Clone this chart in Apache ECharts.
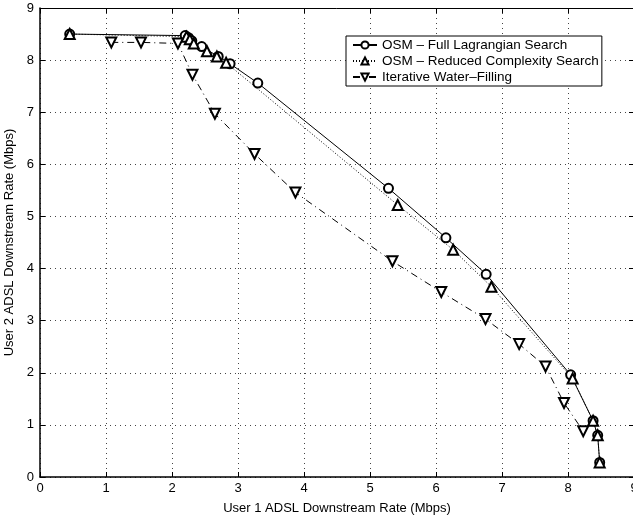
<!DOCTYPE html>
<html>
<head>
    <meta charset="UTF-8">
    <title>OSM vs IWF</title>
    <script src="https://cdn.jsdelivr.net/npm/echarts@6/dist/echarts.min.js"></script>
</head>
<body style="margin:0">
<div id="main" style="width:633px;height:516px"></div>
<script>
    // rate pairs (Mbps)
    var fullX = [0.45, 2.2, 2.25, 2.3, 2.45, 2.7, 2.88, 3.3, 5.28, 6.15, 6.76, 8.04, 8.38, 8.45, 8.48];
    var fullY = [8.5, 8.47, 8.43, 8.37, 8.26, 8.07, 7.93, 7.56, 5.54, 4.59, 3.89, 1.96, 1.08, 0.8, 0.28];
    var redX = [0.45, 2.22, 2.27, 2.33, 2.53, 2.68, 2.82, 5.42, 6.26, 6.84, 8.07, 8.38, 8.45, 8.48];
    var redY = [8.5, 8.45, 8.4, 8.32, 8.17, 8.07, 7.95, 5.22, 4.36, 3.65, 1.89, 1.08, 0.8, 0.28];
    var iwfX = [1.08, 1.53, 2.09, 2.31, 2.65, 3.25, 3.87, 5.34, 6.08, 6.75, 7.26, 7.66, 7.94, 8.23];
    var iwfY = [8.34, 8.34, 8.32, 7.72, 6.97, 6.2, 5.46, 4.14, 3.55, 3.03, 2.55, 2.12, 1.42, 0.88];
    var names = ['OSM \u2013 Full Lagrangian Search', 'OSM \u2013 Reduced Complexity Search', 'Iterative Water\u2013Filling'];

    function pairs(xs, ys) {
        return xs.map(function (x, i) { return [x, ys[i]]; });
    }

    var font = 'Liberation Sans, Arial, sans-serif';
    var myChart = echarts.init(document.getElementById('main'));

    var option = {
        animation: false,
        textStyle: { fontFamily: font },
        grid: { left: 40, right: -1, top: 8, bottom: 39, containLabel: false, outerBoundsMode: 'none' },
        legend: {
            orient: 'vertical',
            left: 346, top: 36,
            itemWidth: 24, itemHeight: 9, itemGap: 0,
            padding: [1, 3, 1, 6],
            borderColor: '#000', borderWidth: 1,
            backgroundColor: '#fff',
            textStyle: { fontSize: 13.5, color: '#000', fontFamily: font, lineHeight: 16 },
            data: names
        },
        xAxis: [{
            type: 'value', min: 0, max: 9, interval: 1,
            name: 'User 1 ADSL Downstream Rate (Mbps)',
            nameLocation: 'middle', nameGap: 25,
            nameTextStyle: { fontSize: 13, color: '#000' },
            axisLine: { onZero: false, lineStyle: { color: '#000', width: 1.5 } },
            axisTick: { inside: true, length: 5, lineStyle: { color: '#000' } },
            axisLabel: { fontSize: 13, color: '#000', margin: 5 },
            splitLine: { lineStyle: { type: [1, 4], color: '#444' } }
        }, {
            type: 'value', min: 0, max: 9, interval: 1, position: 'top',
            axisLine: { show: true, onZero: false, lineStyle: { color: '#000', width: 1 } },
            axisTick: { inside: true, length: 5, lineStyle: { color: '#000' } },
            axisLabel: { show: false },
            splitLine: { show: false }
        }],
        yAxis: [{
            type: 'value', min: 0, max: 9, interval: 1,
            name: 'User 2 ADSL Downstream Rate (Mbps)',
            nameLocation: 'middle', nameGap: 24, nameRotate: 90,
            nameTextStyle: { fontSize: 13, color: '#000' },
            axisLine: { show: true, onZero: false, lineStyle: { color: '#000', width: 1.5 } },
            axisTick: { show: true, inside: true, length: 5, lineStyle: { color: '#000' } },
            axisLabel: { fontSize: 13, color: '#000', margin: 6 },
            splitLine: { lineStyle: { type: [1, 4], color: '#444' } }
        }, {
            type: 'value', min: 0, max: 9, interval: 1, position: 'right',
            axisLine: { show: true, onZero: false, lineStyle: { color: '#000' } },
            axisTick: { show: true, inside: true, length: 5, lineStyle: { color: '#000' } },
            axisLabel: { show: false },
            splitLine: { show: false }
        }],
        series: [{
            name: names[0],
            type: 'line',
            data: pairs(fullX, fullY),
            symbol: 'emptyCircle', symbolSize: 9,
            itemStyle: { color: '#000', borderWidth: 0.8 },
            lineStyle: { color: '#000', width: 1 }
        }, {
            name: names[1],
            type: 'line',
            data: pairs(redX, redY),
            symbol: 'emptyTriangle', symbolSize: 10,
            itemStyle: { color: '#000', borderWidth: 0.8 },
            lineStyle: { color: '#000', width: 1, type: [1, 2] }
        }, {
            name: names[2],
            type: 'line',
            data: pairs(iwfX, iwfY),
            symbol: 'emptyTriangle', symbolSize: 10, symbolRotate: 180,
            itemStyle: { color: '#000', borderWidth: 0.8 },
            lineStyle: { color: '#000', width: 1, type: [7, 4, 1, 4] }
        }]
    };

    myChart.setOption(option);
</script>
</body>
</html>
